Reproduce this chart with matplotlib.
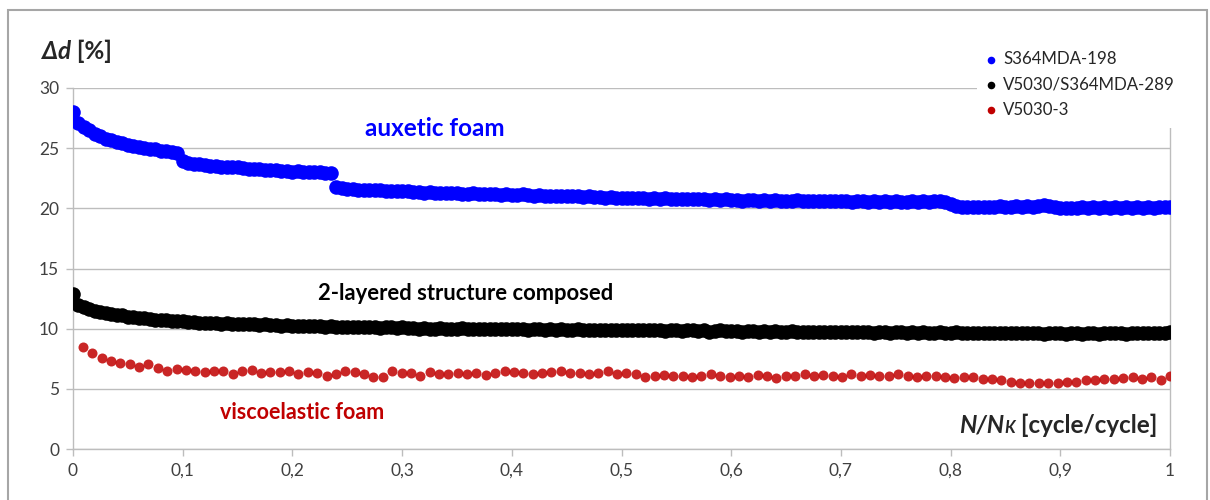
import numpy as np
import matplotlib
matplotlib.use('Agg')
import matplotlib.pyplot as plt
from matplotlib.patches import Rectangle

plt.rcParams['font.family'] = ['Lato', 'DejaVu Sans']

# series values, sampled evenly over N/NK
blue_y = [
    28.0, 27.1, 26.8, 26.5, 26.2, 26.0, 25.8, 25.7, 25.5, 25.4,
    25.3, 25.2, 25.1, 25.0, 24.95, 24.9, 24.8, 24.75, 24.7, 24.6,
    23.9, 23.8, 23.7, 23.65, 23.6, 23.55, 23.5, 23.45, 23.45, 23.4,
    23.4, 23.35, 23.3, 23.3, 23.25, 23.2, 23.2, 23.15, 23.1, 23.1,
    23.05, 23.1, 23.0, 23.05, 23.0, 23.0, 22.95, 22.9, 21.8, 21.65,
    21.6, 21.6, 21.55, 21.55, 21.5, 21.5, 21.5, 21.45, 21.45, 21.4,
    21.4, 21.4, 21.35, 21.35, 21.3, 21.35, 21.3, 21.3, 21.25, 21.3,
    21.25, 21.2, 21.2, 21.25, 21.2, 21.15, 21.2, 21.15, 21.1, 21.15,
    21.1, 21.1, 21.15, 21.1, 21.05, 21.1, 21.05, 21.0, 21.05, 21.0,
    21.0, 21.05, 21.0, 20.95, 21.0, 20.95, 20.95, 20.9, 20.95, 20.9,
    20.85, 20.9, 20.85, 20.9, 20.85, 20.8, 20.85, 20.8, 20.85, 20.8,
    20.8, 20.75, 20.8, 20.75, 20.8, 20.75, 20.7, 20.75, 20.7, 20.75,
    20.7, 20.7, 20.65, 20.7, 20.7, 20.65, 20.7, 20.65, 20.7, 20.65,
    20.6, 20.65, 20.7, 20.65, 20.6, 20.65, 20.6, 20.65, 20.6, 20.6,
    20.65, 20.6, 20.55, 20.6, 20.6, 20.55, 20.6, 20.55, 20.6, 20.55,
    20.6, 20.55, 20.55, 20.6, 20.55, 20.6, 20.55, 20.6, 20.6, 20.55,
    20.4, 20.2, 20.1, 20.1, 20.15, 20.1, 20.15, 20.1, 20.15, 20.2,
    20.15, 20.1, 20.2, 20.15, 20.2, 20.15, 20.2, 20.25, 20.2, 20.1,
    20.0, 20.05, 20.0, 20.05, 20.1, 20.05, 20.1, 20.05, 20.1, 20.05,
    20.1, 20.05, 20.1, 20.05, 20.1, 20.05, 20.1, 20.05, 20.1, 20.1,
    20.15]

black_y = [
    12.9, 12.0, 11.8, 11.6, 11.5, 11.4, 11.3, 11.2, 11.15, 11.1,
    11.0, 10.95, 10.9, 10.85, 10.8, 10.75, 10.7, 10.7, 10.65, 10.6,
    10.6, 10.55, 10.55, 10.5, 10.5, 10.45, 10.45, 10.4, 10.45, 10.4,
    10.4, 10.35, 10.35, 10.4, 10.3, 10.35, 10.3, 10.3, 10.25, 10.3,
    10.25, 10.25, 10.2, 10.25, 10.2, 10.2, 10.15, 10.2, 10.15, 10.15,
    10.1, 10.15, 10.1, 10.1, 10.15, 10.1, 10.05, 10.1, 10.1, 10.05,
    10.1, 10.05, 10.05, 10.0, 10.05, 10.0, 9.95, 10.05, 10.0, 10.0,
    10.0, 10.05, 9.95, 10.0, 10.0, 9.95, 10.0, 9.95, 10.0, 9.95,
    9.95, 10.0, 9.95, 9.9, 9.95, 9.95, 9.9, 9.95, 9.9, 9.95,
    9.9, 9.9, 9.95, 9.9, 9.85, 9.9, 9.9, 9.85, 9.9, 9.9,
    9.85, 9.9, 9.85, 9.9, 9.85, 9.85, 9.9, 9.85, 9.8, 9.85,
    9.85, 9.8, 9.85, 9.85, 9.8, 9.85, 9.75, 9.8, 9.85, 9.8,
    9.8, 9.8, 9.75, 9.8, 9.8, 9.75, 9.8, 9.75, 9.8, 9.75,
    9.75, 9.8, 9.75, 9.7, 9.75, 9.75, 9.7, 9.75, 9.7, 9.75,
    9.7, 9.75, 9.7, 9.7, 9.75, 9.7, 9.65, 9.7, 9.7, 9.65,
    9.7, 9.7, 9.65, 9.7, 9.65, 9.7, 9.65, 9.65, 9.7, 9.65,
    9.65, 9.7, 9.65, 9.6, 9.65, 9.65, 9.6, 9.65, 9.6, 9.65,
    9.6, 9.65, 9.6, 9.6, 9.65, 9.6, 9.6, 9.55, 9.6, 9.6,
    9.6, 9.55, 9.6, 9.6, 9.55, 9.6, 9.6, 9.55, 9.6, 9.6,
    9.6, 9.6, 9.55, 9.6, 9.6, 9.65, 9.6, 9.6, 9.65, 9.65,
    9.7]

red_y = [
    8.5, 8.0, 7.6, 7.3, 7.15, 7.1, 6.85, 7.05, 6.7, 6.5,
    6.65, 6.6, 6.45, 6.37, 6.45, 6.45, 6.2, 6.45, 6.6, 6.3,
    6.37, 6.37, 6.5, 6.21, 6.4, 6.29, 6.1, 6.21, 6.45, 6.4,
    6.2, 6.01, 6.01, 6.45, 6.29, 6.29, 6.1, 6.37, 6.21, 6.21,
    6.3, 6.2, 6.35, 6.15, 6.3, 6.45, 6.4, 6.3, 6.2, 6.35,
    6.4, 6.45, 6.3, 6.35, 6.2, 6.3, 6.45, 6.25, 6.3, 6.2,
    5.95, 6.1, 6.15, 6.05, 6.1, 6.0, 6.1, 6.2, 6.05, 5.95,
    6.1, 6.0, 6.15, 6.05, 5.9, 6.05, 6.1, 6.2, 6.1, 6.15,
    6.1, 6.0, 6.2, 6.05, 6.15, 6.1, 6.05, 6.2, 6.1, 6.0,
    6.1, 6.05, 6.0, 5.9, 6.0, 5.95,
    5.85, 5.8, 5.7, 5.6, 5.5, 5.45, 5.5, 5.45, 5.5, 5.55,
    5.6, 5.7, 5.75, 5.85, 5.8, 5.9, 5.95, 5.85, 6.0, 5.75,
    6.05]

blue_x = np.linspace(0, 1, len(blue_y))
black_x = np.linspace(0, 1, len(black_y))
red_x = np.linspace(0.009, 1, len(red_y))

series_names = ['S364MDA-198', 'V5030/S364MDA-289', 'V5030-3']
series_colors = ['#0000FF', '#000000', '#C00000']
x_ticks = [0, 0.1, 0.2, 0.3, 0.4, 0.5, 0.6, 0.7, 0.8, 0.9, 1]
x_tick_labels = ['0', '0,1', '0,2', '0,3', '0,4', '0,5', '0,6', '0,7', '0,8', '0,9', '1']
y_ticks = [0, 5, 10, 15, 20, 25, 30]

W, H = 1210, 500
fig = plt.figure(figsize=(W / 100, H / 100), dpi=100)
fig.patch.set_facecolor('white')

# outer chart border
fig.patches.append(Rectangle((8 / W, -0.1), 1199 / W, (H - 10) / H + 0.1,
                             transform=fig.transFigure, fill=False,
                             edgecolor='#A6A6A6', linewidth=1.5))

ax = fig.add_axes([73 / W, (H - 449) / H, 1097 / W, 361 / H])
grid_c = '#BDBDBD'

ax.scatter(blue_x, blue_y, s=110, color=series_colors[0], linewidths=0,
           label=series_names[0], zorder=3)
ax.scatter(black_x, black_y, s=110, color=series_colors[1], linewidths=0,
           label=series_names[1], zorder=3)
ax.scatter(red_x, red_y, s=52, color=series_colors[2], alpha=0.85, linewidths=0,
           label=series_names[2], zorder=3)

ax.set_xlim(0, 1)
ax.set_ylim(0, 30)
ax.set_xticks(x_ticks)
ax.set_xticklabels(x_tick_labels)
ax.set_yticks(y_ticks)
ax.yaxis.grid(True, color=grid_c, linewidth=1)
ax.set_axisbelow(True)
ax.tick_params(axis='both', direction='out', length=5, width=1, color=grid_c,
               labelsize=12.5, labelcolor='#404040', pad=5)
for side in ['left', 'bottom', 'right']:
    ax.spines[side].set_color(grid_c)
    ax.spines[side].set_linewidth(1)
ax.spines['top'].set_visible(False)

leg = ax.legend(loc='upper left', bbox_to_anchor=(977 / W, (H - 41) / H),
                bbox_transform=fig.transFigure, frameon=True, fancybox=False,
                facecolor='white', edgecolor='none', framealpha=1,
                fontsize=12.2, handlelength=0.5, handletextpad=0.45,
                labelspacing=0.55, borderpad=0.6, borderaxespad=0)
for h in leg.legend_handles:
    h.set_sizes([30])
    h.set_alpha(1)
for t in leg.get_texts():
    t.set_color('#262626')

# series annotations
ax.text(0.33, 26.6, 'auxetic foam', color='#0000FF', fontsize=17.5,
        fontweight='bold', ha='center', va='center')
ax.text(0.358, 12.95, '2-layered structure composed', color='#000000',
        fontsize=15.8, fontweight='bold', ha='center', va='center')
ax.text(0.209, 3.0, 'viscoelastic foam', color='#C00000', fontsize=15.5,
        fontweight='bold', ha='center', va='center')

# axis titles
fig.canvas.draw()
r = fig.canvas.get_renderer()
yb = (H - 59) / H
t1 = fig.text(42 / W, yb, '\u0394d', fontsize=17.5, fontweight='bold',
              style='italic', va='baseline', color='#262626')
bb = t1.get_window_extent(r)
fig.text(bb.x1 / W, yb, ' [%]', fontsize=17.5, fontweight='bold',
         va='baseline', color='#262626')

xb = (H - 433) / H
t3 = fig.text(1157 / W, xb, ' [cycle/cycle]', fontsize=17.5, fontweight='bold',
              ha='right', va='baseline', color='#262626')
bb = t3.get_window_extent(r)
t2 = fig.text(bb.x0 / W, xb, 'K', fontsize=12, fontweight='bold',
              style='italic', ha='right', va='baseline', color='#262626')
bb = t2.get_window_extent(r)
fig.text(bb.x0 / W, xb, 'N/N', fontsize=17.5, fontweight='bold',
         style='italic', ha='right', va='baseline', color='#262626')

fig.savefig('out.png', dpi=100)
